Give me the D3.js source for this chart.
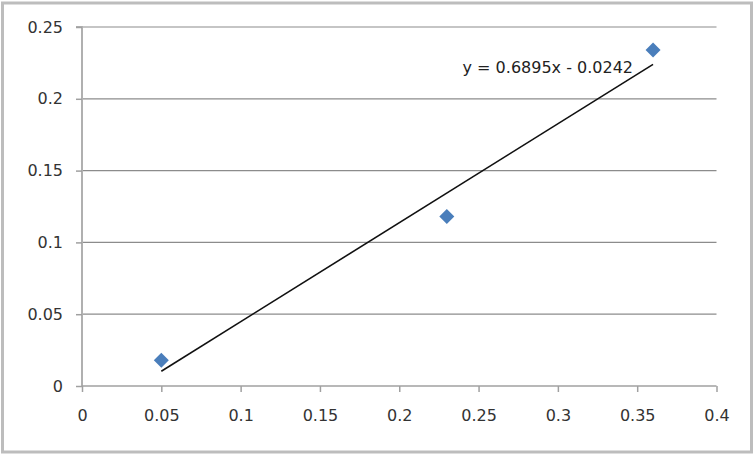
<!DOCTYPE html>
<html lang="en">
<head>
<meta charset="UTF-8">
<title>Scatter with trendline</title>
<script src="https://d3js.org/d3.v7.min.js"></script>
<style>
  body { margin: 0; background: #ffffff; }
  svg text { font-family: "DejaVu Sans", sans-serif; fill: #333333; }
</style>
</head>
<body>
<svg id="chart" width="756" height="456"></svg>
<script>
// data
const xValues = [0.05, 0.23, 0.36];
const yValues = [0.018, 0.118, 0.234];
const xTicks = [0, 0.05, 0.1, 0.15, 0.2, 0.25, 0.3, 0.35, 0.4];
const yTicks = [0, 0.05, 0.1, 0.15, 0.2, 0.25];
const slope = 0.6895;
const intercept = -0.0242;
const equationLabel = "y = 0.6895x - 0.0242";

const svg = d3.select("#chart");

// outer chart border
svg.append("rect")
    .attr("x", 2.5).attr("y", 3)
    .attr("width", 749).attr("height", 449)
    .attr("fill", "#fff")
    .attr("stroke", "#bdbdbd")
    .attr("stroke-width", 3);

const x = d3.scaleLinear().domain([0, 0.4]).range([82, 716.5]);
const y = d3.scaleLinear().domain([0, 0.25]).range([386, 27]);

// horizontal gridlines
svg.append("g")
    .selectAll("line")
    .data(yTicks.filter(d => d > 0))
    .enter().append("line")
    .attr("x1", x(0)).attr("x2", x(0.4))
    .attr("y1", d => y(d)).attr("y2", d => y(d))
    .attr("stroke", "#8c8c8c")
    .attr("stroke-width", 1.2);

// y axis
const yAxis = svg.append("g")
    .attr("transform", `translate(${x(0)},0)`)
    .call(d3.axisLeft(y).tickValues(yTicks).tickSize(6).tickPadding(13)
        .tickFormat(d => String(d)));
yAxis.select(".domain").attr("stroke", "#b0b0b0").attr("stroke-width", 2)
    .attr("d", `M-6,${y(0.25)}H0V${y(0)}`);
yAxis.selectAll(".tick line").attr("stroke", "#a0a0a0").attr("stroke-width", 1.5);
yAxis.selectAll("text").style("font-size", "16px").style("fill", "#333");

// x axis
const xAxis = svg.append("g")
    .attr("transform", `translate(0,${y(0)})`)
    .call(d3.axisBottom(x).tickValues(xTicks).tickSize(6).tickPadding(18)
        .tickFormat(d => String(d)));
xAxis.select(".domain").attr("stroke", "#a0a0a0").attr("stroke-width", 1.5)
    .attr("d", `M${x(0)},0H${x(0.4)}`);
xAxis.selectAll(".tick line").attr("stroke", "#a0a0a0").attr("stroke-width", 1.5);
xAxis.selectAll("text").style("font-size", "16px").style("fill", "#333");

// trendline over the data range
const xMin = d3.min(xValues), xMax = d3.max(xValues);
svg.append("line")
    .attr("x1", x(xMin)).attr("y1", y(slope * xMin + intercept))
    .attr("x2", x(xMax)).attr("y2", y(slope * xMax + intercept))
    .attr("stroke", "#111")
    .attr("stroke-width", 1.6);

// diamond markers
svg.append("g")
    .selectAll("path")
    .data(xValues.map((v, i) => [v, yValues[i]]))
    .enter().append("path")
    .attr("transform", d => `translate(${x(d[0])},${y(d[1])})`)
    .attr("d", "M0,-7.5L7.5,0L0,7.5L-7.5,0Z")
    .attr("fill", "#4a7ebb");

// equation label
svg.append("text")
    .attr("x", 633).attr("y", 73)
    .attr("text-anchor", "end")
    .style("font-size", "16px")
    .style("fill", "#222")
    .text(equationLabel);
</script>
</body>
</html>
